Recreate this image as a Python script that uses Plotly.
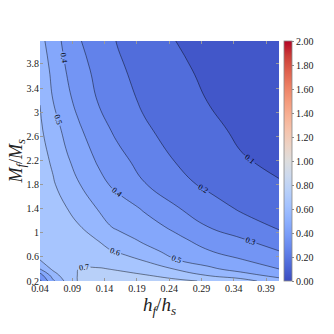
import plotly.graph_objects as go

# grid
X_VALS = [0.04, 0.06, 0.08, 0.10, 0.13, 0.16, 0.20, 0.25, 0.30, 0.35, 0.41]
Y_VALS = [0.2, 0.3, 0.4, 0.55, 0.7, 0.9, 1.1, 1.4, 1.8, 2.2, 2.7, 3.2, 3.7, 4.2]

# one list per row (y), values along x
Z_Y020 = [0.28, 0.48, 0.62, 0.71, 0.735, 0.74, 0.735, 0.72, 0.69, 0.645, 0.54]
Z_Y030 = [0.36, 0.55, 0.66, 0.705, 0.72, 0.715, 0.705, 0.66, 0.59, 0.535, 0.465]
Z_Y040 = [0.50, 0.62, 0.675, 0.70, 0.705, 0.695, 0.65, 0.595, 0.52, 0.465, 0.40]
Z_Y055 = [0.60, 0.645, 0.67, 0.68, 0.67, 0.645, 0.595, 0.503, 0.454, 0.406, 0.35]
Z_Y070 = [0.665, 0.675, 0.67, 0.655, 0.625, 0.59, 0.531, 0.467, 0.404, 0.355, 0.30]
Z_Y090 = [0.675, 0.67, 0.655, 0.63, 0.595, 0.54, 0.48, 0.419, 0.361, 0.306, 0.23]
Z_Y110 = [0.675, 0.66, 0.635, 0.607, 0.535, 0.484, 0.44, 0.38, 0.30, 0.244, 0.19]
Z_Y140 = [0.665, 0.64, 0.605, 0.561, 0.496, 0.451, 0.392, 0.31, 0.246, 0.19, 0.15]
Z_Y180 = [0.65, 0.61, 0.559, 0.505, 0.433, 0.373, 0.307, 0.234, 0.181, 0.144, 0.105]
Z_Y220 = [0.635, 0.586, 0.517, 0.462, 0.388, 0.331, 0.265, 0.196, 0.155, 0.106, 0.085]
Z_Y270 = [0.615, 0.546, 0.474, 0.415, 0.34, 0.279, 0.215, 0.165, 0.118, 0.088, 0.075]
Z_Y320 = [0.597, 0.50, 0.429, 0.369, 0.295, 0.242, 0.186, 0.141, 0.098, 0.078, 0.062]
Z_Y370 = [0.56, 0.477, 0.40, 0.341, 0.271, 0.216, 0.168, 0.116, 0.085, 0.066, 0.052]
Z_Y420 = [0.53, 0.448, 0.371, 0.307, 0.247, 0.195, 0.152, 0.099, 0.075, 0.06, 0.045]

X_TICKS = [0.04, 0.09, 0.14, 0.19, 0.24, 0.29, 0.34, 0.39]
X_TICK_TEXT = ["0.04", "0.09", "0.14", "0.19", "0.24", "0.29", "0.34", "0.39"]
Y_TICKS = [0.2, 0.6, 1.0, 1.4, 1.8, 2.2, 2.6, 3.0, 3.4, 3.8]
Y_TICK_TEXT = ["0.2", "0.6", "1", "1.4", "1.8", "2.2", "2.6", "3", "3.4", "3.8"]
CBAR_TICKS = [0.0, 0.2, 0.4, 0.6, 0.8, 1.0, 1.2, 1.4, 1.6, 1.8, 2.0]

# matplotlib coolwarm, sampled every 1/16
COOLWARM = [
	(0.0, (59, 76, 192)), (0.0625, (77, 104, 215)), (0.125, (98, 130, 234)),
	(0.1875, (119, 154, 247)), (0.25, (141, 176, 254)), (0.3125, (163, 194, 255)),
	(0.375, (184, 208, 249)), (0.4375, (204, 217, 238)), (0.5, (221, 221, 221)),
	(0.5625, (236, 211, 197)), (0.625, (245, 196, 173)), (0.6875, (247, 177, 148)),
	(0.75, (244, 154, 123)), (0.8125, (236, 127, 99)), (0.875, (222, 96, 77)),
	(0.9375, (203, 62, 56)), (1.0, (180, 4, 38)),
]
ZMIN, ZMAX, STEP = 0.0, 2.0, 0.1

def rgb(c):
	return "rgb({}, {}, {})".format(*c)

# plotly maps fill colours over [start - step/2, end + step/2]; shift so bands match mpl
lo, hi = ZMIN - STEP / 2, ZMAX + STEP / 2
contour_scale = [[0.0, rgb(COOLWARM[0][1])]]
for t, c in COOLWARM:
	contour_scale.append([(ZMIN + t * (ZMAX - ZMIN) - lo) / (hi - lo), rgb(c)])
contour_scale.append([1.0, rgb(COOLWARM[-1][1])])
bar_scale = [[t, rgb(c)] for t, c in COOLWARM]

Z = [Z_Y020, Z_Y030, Z_Y040, Z_Y055, Z_Y070, Z_Y090, Z_Y110,
	Z_Y140, Z_Y180, Z_Y220, Z_Y270, Z_Y320, Z_Y370, Z_Y420]

FONT = "Liberation Serif"

fig = go.Figure()
fig.add_trace(go.Contour(
	x = X_VALS, y = Y_VALS, z = Z,
	autocontour = False,
	contours = dict(start = ZMIN, end = ZMAX, size = STEP, coloring = "fill",
		showlabels = True, labelformat = ".1f",
		labelfont = dict(size = 8, color = "black", family = FONT)),
	colorscale = contour_scale,
	line = dict(color = "rgba(0,0,0,0.75)", width = 0.6, smoothing = 1.3),
	showscale = False,
	hoverinfo = "skip",
))
# smooth colour bar like the reference
fig.add_trace(go.Scatter(
	x = [X_VALS[0]], y = [Y_VALS[0]], mode = "markers",
	marker = dict(size = 0.1, opacity = 0, color = [ZMIN], cmin = ZMIN, cmax = ZMAX,
		colorscale = bar_scale, showscale = True,
		colorbar = dict(x = 1.021, xanchor = "left", y = 0.5, yanchor = "middle",
			len = 1.0, lenmode = "fraction", thickness = 8, xpad = 0, ypad = 0,
			outlinewidth = 0.8, outlinecolor = "#888",
			tickvals = CBAR_TICKS, tickformat = ".2f", ticks = "outside", ticklen = 2,
			tickcolor = "#888", tickfont = dict(size = 10, family = FONT, color = "#222"))),
	showlegend = False, hoverinfo = "skip",
))

# page body has an 8px margin, so the figure is 326 wide and margins are offset
fig.update_layout(
	width = 326, height = 326,
	margin = dict(l = 32, r = 55, t = 33, b = 53),
	plot_bgcolor = "white", paper_bgcolor = "white",
	font = dict(family = FONT, size = 10, color = "#222"),
	xaxis = dict(range = [0.04, 0.41], tickvals = X_TICKS, ticktext = X_TICK_TEXT,
		ticks = "inside", ticklen = 3, tickcolor = "#999", showgrid = False, zeroline = False,
		showline = False, mirror = "ticks", automargin = False,
		title = dict(text = "<i>h</i><sub><i>f</i></sub>/<i>h</i><sub><i>s</i></sub>",
			font = dict(size = 19, family = FONT), standoff = 2)),
	yaxis = dict(range = [0.2, 4.18], tickvals = Y_TICKS, ticktext = Y_TICK_TEXT,
		ticks = "inside", ticklen = 3, tickcolor = "#999", showgrid = False, zeroline = False,
		showline = False, mirror = "ticks", automargin = False),
)
# y title as an annotation so it clears the tick labels
fig.add_annotation(
	text = "<i>M</i><sub><i>f</i></sub>/<i>M</i><sub><i>s</i></sub>",
	xref = "paper", yref = "paper", x = -0.098, y = 0.5,
	xanchor = "center", yanchor = "middle", textangle = -90, showarrow = False,
	font = dict(size = 18, family = FONT, color = "#222"),
)

fig.write_html("out.html")
